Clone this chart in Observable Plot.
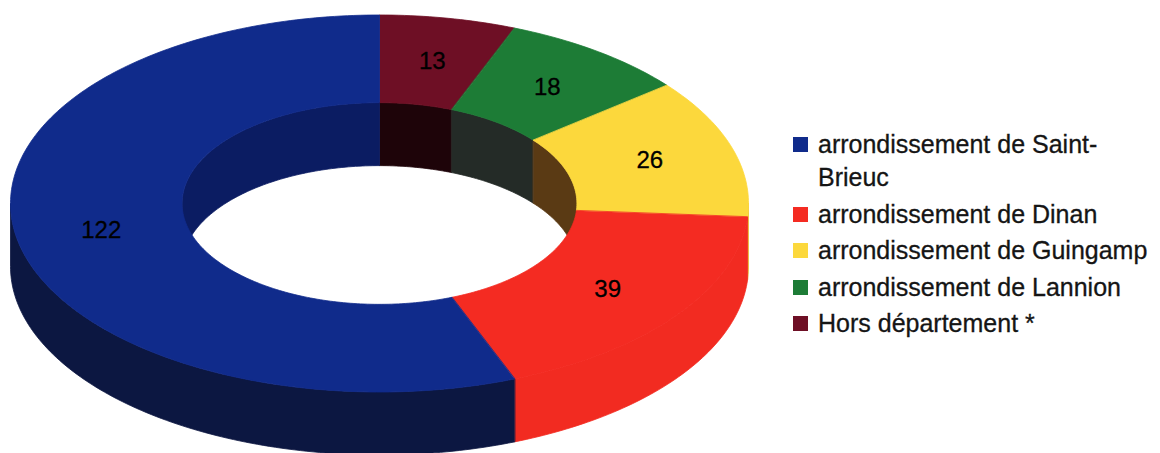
<!DOCTYPE html>
<html>
<head>
<meta charset="utf-8">
<script src="https://cdn.jsdelivr.net/npm/d3@7"></script>
<script src="https://cdn.jsdelivr.net/npm/@observablehq/plot@0.6"></script>
<style>
  html, body { margin: 0; padding: 0; background: #fff; }
  #wrap { position: relative; width: 1160px; height: 453px; overflow: hidden; font-family: "Liberation Sans", Arial, sans-serif; }
  #chart { position: absolute; left: 0; top: 0; }
  #legend { position: absolute; left: 793px; top: 128px; width: 365px; }
  .item { display: flex; align-items: flex-start; margin-bottom: 3.5px; }
  .sw { width: 15px; height: 15px; margin-top: 9px; flex: none; }
  .lbl { margin-left: 10px; font-size: 25px; line-height: 33px; color: #151515; width: 335px; -webkit-text-stroke: 0.3px #151515; }
</style>
</head>
<body>
<div id="wrap">
  <div id="chart"></div>
  <div id="legend"></div>
</div>
<script>
// ---- data ----
const categories = [
  "arrondissement de Saint-Brieuc",
  "arrondissement de Dinan",
  "arrondissement de Guingamp",
  "arrondissement de Lannion",
  "Hors département *"
];
const values = [122, 39, 26, 18, 13];
const topColors = ["#102b8b", "#f42b22", "#fcd83c", "#1d7c36", "#6e0f25"];
const sideColors = ["#0c1741", "#f22b21", "#e8c535", "#145a27", "#4a0a18"];
const innerColors = ["#0b1c62", "#9a1a14", "#5a3a14", "#242b27", "#1e0409"];

// ---- geometry (ellipse units) ----
const INNER = 0.535;   // inner radius / outer radius
const DEPTH = 0.334;   // thickness in vertical units
const total = d3.sum(values);

function pt(r, deg, z) {
  const t = deg * Math.PI / 180;
  return { x: r * Math.sin(t), y: r * Math.cos(t) - z * DEPTH };
}
function arc(r, from, to, z) {
  const n = Math.max(2, Math.ceil(Math.abs(to - from)));
  const out = [];
  for (let k = 0; k <= n; k++) out.push(pt(r, from + (to - from) * k / n, z));
  return out;
}

const sides = [], inners = [], tops = [], labels = [];
let start = 0;
// drawn clockwise from 12 o'clock, last category first
for (const i of d3.range(values.length).reverse()) {
  const a0 = start, a1 = start + values[i] / total * 360;
  start = a1;
  const id = categories[i];
  // top face
  [...arc(1, a0, a1, 0), ...arc(INNER, a1, a0, 0)]
    .forEach(p => tops.push({ ...p, id, c: topColors[i] }));
  // outer wall (front half)
  const b0 = Math.max(a0, 90), b1 = Math.min(a1, 270);
  if (b1 > b0) [...arc(1, b0, b1, 0), ...arc(1, b1, b0, 1)]
    .forEach(p => sides.push({ ...p, id, c: sideColors[i] }));
  // inner wall (back half: 270..360 and 0..90)
  for (const [lo, hi] of [[0, 90], [270, 360]]) {
    const c0 = Math.max(a0, lo), c1 = Math.min(a1, hi);
    if (c1 > c0) [...arc(INNER, c0, c1, 0), ...arc(INNER, c1, c0, 1)]
      .forEach(p => inners.push({ ...p, id: id + lo, c: innerColors[i] }));
  }
  const m = pt((1 + INNER) / 2, (a0 + a1) / 2, 0);
  labels.push({ ...m, text: String(values[i]) });
}

const poly = (data) => Plot.line(data, {
  x: "x", y: "y", z: "id", fill: "c", stroke: "c", strokeWidth: 0.8,
  curve: "linear-closed"
});

const chart = Plot.plot({
  width: 780,
  height: 453,
  margin: 0,
  style: { background: "#fff", overflow: "visible" },
  x: { domain: [-1, 1], range: [10, 748], axis: null },
  y: { domain: [-1, 1], range: [391.5, 14.5], axis: null },
  color: { type: "identity" },
  marks: [
    poly(sides),
    poly(inners),
    poly(tops),
    Plot.text(labels, {
      x: "x", y: "y", text: "text", fill: "#000",
      stroke: "#000", strokeWidth: 0.3,
      fontSize: 24, fontFamily: "Liberation Sans, Arial, sans-serif"
    })
  ]
});
document.getElementById("chart").appendChild(chart);

// legend
const legend = document.getElementById("legend");
categories.forEach((name, i) => {
  const item = document.createElement("div");
  item.className = "item";
  const sw = document.createElement("div");
  sw.className = "sw";
  sw.style.background = topColors[i];
  const lbl = document.createElement("div");
  lbl.className = "lbl";
  lbl.textContent = name;
  item.appendChild(sw);
  item.appendChild(lbl);
  legend.appendChild(item);
});
</script>
</body>
</html>
